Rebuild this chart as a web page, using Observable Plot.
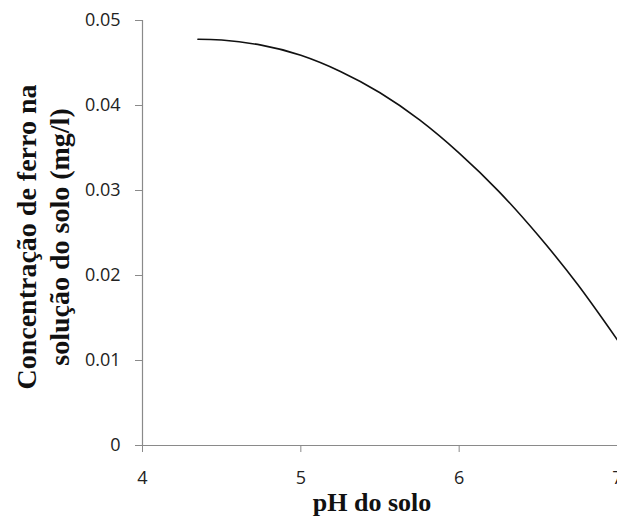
<!DOCTYPE html>
<html>
<head>
<meta charset="utf-8">
<script src="https://cdn.jsdelivr.net/npm/d3@7"></script>
<script src="https://cdn.jsdelivr.net/npm/@observablehq/plot@0.6"></script>
<style>
  html, body { margin: 0; padding: 0; background: #fff; overflow: hidden; }
  #chart svg { display: block; }
</style>
</head>
<body>
<div id="chart"></div>
<script>
// pH values and read-off iron concentrations (mg/l)
const ph = [4.35, 4.5, 4.75, 5.0, 5.25, 5.5, 5.75, 6.0, 6.25, 6.5, 6.75, 7.0];
const ferro = [0.0478, 0.0477, 0.0471, 0.0459, 0.0440, 0.0415, 0.0383, 0.0344, 0.0299, 0.0247, 0.0189, 0.0124];

const xTicks = [4, 5, 6, 7];
const xTickLabels = ["4", "5", "6", "7"];
const yTicks = [0, 0.01, 0.02, 0.03, 0.04, 0.05];
const yTickLabels = ["0", "0.01", "0.02", "0.03", "0.04", "0.05"];

const xTitle = "pH do solo";
const yTitle1 = "Concentração de ferro na";
const yTitle2 = "solução do solo (mg/l)";

const data = ph.map((x, i) => ({x, y: ferro[i]}));

const axisColor = "#8a8a8a";
const labelFont = "Liberation Serif";

const chart = Plot.plot({
  width: 617,
  height: 521,
  marginLeft: 142,
  marginRight: 0,
  marginTop: 20,
  marginBottom: 76,
  style: {fontFamily: "Open Sans", fontSize: "18px", color: "#222", background: "#fff"},
  x: {domain: [4, 7]},
  y: {domain: [0, 0.05]},
  marks: [
    Plot.ruleX([4], {y1: 0, y2: 0.05, stroke: axisColor, strokeWidth: 1.2}),
    Plot.ruleY([0], {stroke: axisColor, strokeWidth: 1.2}),
    Plot.axisX({ticks: xTicks, tickFormat: (d) => xTickLabels[xTicks.indexOf(d)], tickSize: 7, tickPadding: 19, stroke: axisColor, label: null, fill: "#222"}),
    Plot.axisY({ticks: yTicks, tickFormat: (d) => yTickLabels[yTicks.indexOf(d)], tickSize: 7, tickPadding: 15, stroke: axisColor, label: null, fill: "#222"}),
    Plot.line(data, {x: "x", y: "y", stroke: "#111", strokeWidth: 1.6, curve: "natural"}),
    Plot.text([xTitle], {frameAnchor: "bottom", dy: 65, dx: -8, fontFamily: labelFont, fontWeight: "bold", fontSize: 26, fill: "#111"}),
    Plot.text([yTitle1], {frameAnchor: "left", textAnchor: "middle", rotate: -90, dx: -115, dy: 4, fontFamily: labelFont, fontWeight: "bold", fontSize: 28, fill: "#111"}),
    Plot.text([yTitle2], {frameAnchor: "left", textAnchor: "middle", rotate: -90, dx: -82, dy: 4, fontFamily: labelFont, fontWeight: "bold", fontSize: 28, fill: "#111"})
  ]
});
document.getElementById("chart").appendChild(chart);
</script>
</body>
</html>
